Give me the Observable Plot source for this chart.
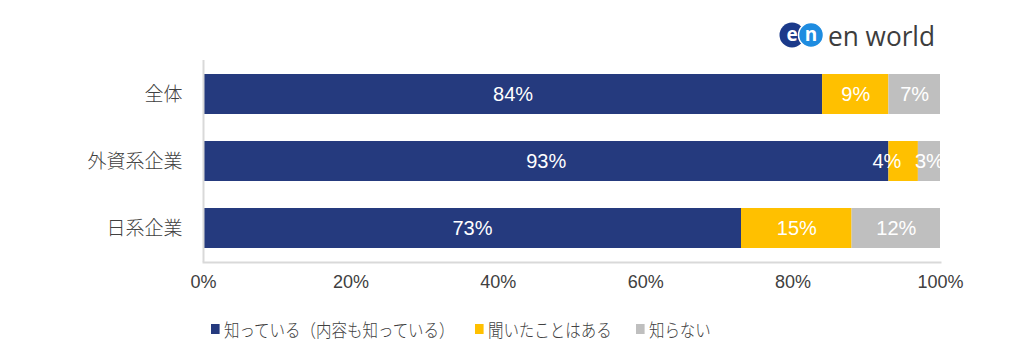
<!DOCTYPE html>
<html><head><meta charset="utf-8">
<script src="https://cdn.jsdelivr.net/npm/d3@7"></script>
<script src="https://cdn.jsdelivr.net/npm/@observablehq/plot@0.6"></script>
<style>
body{margin:0;background:#fff;width:1022px;height:359px;overflow:hidden;position:relative;font-family:"Noto Sans CJK JP",sans-serif;}
#chart{position:absolute;left:0;top:0;}
#logo{position:absolute;left:776px;top:17px;}
.leg{position:absolute;top:317px;display:flex;align-items:center;font-size:18px;color:#404040;font-family:"Noto Sans CJK JP",sans-serif;font-weight:300;white-space:nowrap;line-height:24px;transform:scaleX(0.86);transform-origin:0 50%;}
.leg span.sw{display:inline-block;width:10px;height:10px;margin-right:5px;}
#chart g[aria-label="x-axis tick label"] text{font-family:"Liberation Sans Narrow","Arial Narrow","Liberation Sans",sans-serif;}
#chart g[aria-label="y-axis tick label"] text{font-weight:300;}
</style></head><body>
<div id="chart"></div>
<svg id="logo" width="170" height="36">
  <circle cx="16" cy="18" r="12.5" fill="#1B3A8A"></circle>
  <circle cx="35" cy="18" r="12.5" fill="#1E8CE0" stroke="#fff" stroke-width="1.5"></circle>
  <text x="16" y="24" text-anchor="middle" fill="#fff" font-family="Open Sans, sans-serif" font-weight="700" font-size="19">e</text>
  <text x="35" y="24" text-anchor="middle" fill="#fff" font-family="Open Sans, sans-serif" font-weight="700" font-size="19">n</text>
  <text x="52" y="29" fill="#3d3d3d" font-family="Open Sans, sans-serif" font-weight="400" font-size="27" textLength="107" lengthAdjust="spacingAndGlyphs">en world</text>
</svg>
<script>
const categories = ["全体", "外資系企業", "日系企業"];
const series = ["知っている（内容も知っている）", "聞いたことはある", "知らない"];
const known = [84, 93, 73];
const heard = [9, 4, 15];
const notKnown = [7, 3, 12];
const colors = ["#253A7E", "#FFC000", "#BFBFBF"];
const xTicks = [0, 20, 40, 60, 80, 100];

const values = [known, heard, notKnown];
const data = [];
categories.forEach((c, i) => {
  series.forEach((s, j) => data.push({cat: c, series: s, value: values[j][i]}));
});

const lastSeries = series[series.length - 1];
const shifted = d => d.value < 5 && d.series !== lastSeries;
const labelStyle = {fill: "white", fontSize: 20, fontFamily: "'Liberation Sans', Arial, sans-serif", text: d => d.value + "%"};

const chart = Plot.plot({
  width: 1022,
  height: 300,
  marginTop: 60,
  marginBottom: 38,
  marginLeft: 203,
  marginRight: 82,
  style: {fontFamily: "'Noto Sans CJK JP', sans-serif", color: "#404040", background: "transparent"},
  x: {domain: [0, 100], ticks: xTicks, tickFormat: d => d + "%", label: null},
  y: {domain: categories, paddingInner: 0.4, paddingOuter: 0.2, label: null},
  color: {domain: series, range: colors},
  marks: [
    Plot.barX(data, Plot.stackX({x: "value", y: "cat", fill: "series", z: "series"})),
    Plot.ruleX([0], {stroke: "#D9D9D9", strokeWidth: 2}),
    Plot.frame({anchor: "bottom", stroke: "#D9D9D9", strokeWidth: 2}),
    Plot.text(data, Plot.filter(d => !shifted(d), Plot.stackX({x: "value", y: "cat", z: "series", ...labelStyle}))),
    Plot.text(data, Plot.filter(shifted, Plot.stackX1({x: "value", y: "cat", z: "series", ...labelStyle, dx: -2}))),
    Plot.axisX({ticks: xTicks, tickFormat: d => d + "%", tickSize: 0, tickPadding: 13, fontSize: 18, label: null, fill: "#404040"}),
    Plot.axisY({tickSize: 0, tickPadding: 21, fontSize: 19, label: null, fill: "#404040"})
  ]
});
document.getElementById("chart").appendChild(chart);

const legLeft = [211, 475, 636];
series.forEach((s, j) => {
  const d = document.createElement("div");
  d.className = "leg";
  d.style.left = legLeft[j] + "px";
  d.innerHTML = `<span class="sw" style="background:${colors[j]}"></span><span>${s}</span>`;
  document.body.appendChild(d);
});
</script>
</body></html>
